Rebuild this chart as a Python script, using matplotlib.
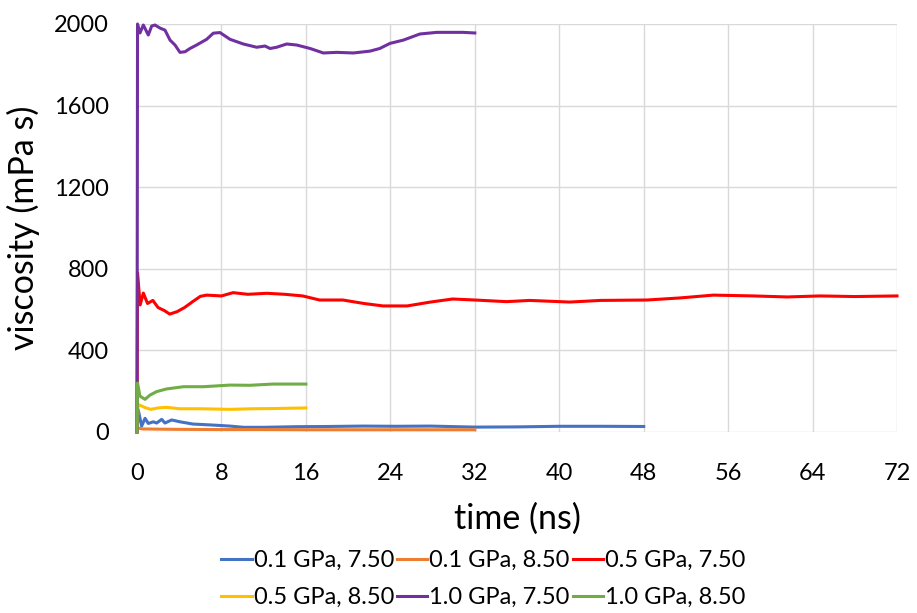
import matplotlib.pyplot as plt

# data (time in ns, viscosity in mPa s)
t_b = [0, 0.12, 0.44, 0.76, 1.07, 1.55, 1.86, 2.34, 2.65, 3.28, 4.07, 5.3, 7.2, 8.8, 10.1,
       12.0, 15.1, 18.0, 21.4, 24.5, 27.8, 32.0, 36.0, 40.0, 44.0, 48.0]
v_b = [0, 108, 29, 67, 42, 50, 44, 62, 44, 59, 50, 39, 34, 29, 23,
       23, 26, 27, 29, 28, 29, 24, 25, 28, 28, 27]

t_o = [0, 0.1, 0.5, 2.0, 4.0, 8.0, 12.0, 16.0, 20.0, 24.0, 28.0, 32.0]
v_o = [0, 20, 15, 14, 13, 12, 12, 11, 11, 11, 11, 11]

t_r = [0, 0.05, 0.3, 0.6, 1.0, 1.5, 2.0, 2.6, 3.1, 3.8, 4.5, 5.3, 6.0, 6.6, 8.0, 9.1, 10.5,
       12.3, 14.0, 15.7, 17.3, 19.5, 21.5, 23.3, 25.6, 27.8, 29.9, 32.0, 35.0, 37.2, 41.0,
       43.9, 48.3, 51.4, 54.6, 58.4, 61.6, 64.7, 68.0, 72.0]
v_r = [0, 780, 623, 681, 630, 645, 610, 595, 578, 590, 610, 640, 665, 671, 667, 683, 675,
       680, 675, 667, 647, 647, 630, 618, 618, 637, 652, 647, 639, 645, 637,
       645, 647, 657, 671, 667, 662, 667, 664, 667]

t_y = [0, 0.1, 0.8, 1.3, 2.0, 2.8, 4.0, 6.0, 8.8, 11.0, 13.0, 16.0]
v_y = [0, 135, 119, 111, 118, 121, 114, 114, 111, 114, 115, 118]

t_p = [0, 0.05, 0.28, 0.6, 1.07, 1.39, 1.7, 2.18, 2.65, 3.13, 3.6, 4.07, 4.55, 5.02, 5.65,
       6.6, 7.23, 7.86, 8.81, 10.07, 11.34, 12.13, 12.6, 13.23, 14.18, 15.13, 16.4, 17.65,
       18.92, 20.5, 22.07, 23.0, 23.97, 25.23, 26.8, 28.4, 30.9, 32.0]
v_p = [0, 2000, 1956, 1995, 1946, 1990, 1995, 1980, 1970, 1921, 1897, 1861, 1864, 1880, 1897,
       1925, 1955, 1958, 1925, 1902, 1886, 1892, 1880, 1886, 1902, 1897, 1880, 1858,
       1861, 1858, 1867, 1880, 1905, 1921, 1951, 1959, 1959, 1956]

t_g = [0, 0.05, 0.28, 0.76, 1.23, 1.86, 2.8, 4.4, 6.3, 8.8, 10.7, 12.9, 16.0]
v_g = [0, 240, 176, 160, 181, 198, 211, 222, 222, 230, 229, 235, 235]

labels = ["0.1 GPa, 7.50", "0.1 GPa, 8.50", "0.5 GPa, 7.50",
          "0.5 GPa, 8.50", "1.0 GPa, 7.50", "1.0 GPa, 8.50"]
colors = ["#4472C4", "#ED7D31", "#FF0000", "#FFC000", "#7030A0", "#70AD47"]
series = [(t_b, v_b), (t_o, v_o), (t_r, v_r), (t_y, v_y), (t_p, v_p), (t_g, v_g)]

x_ticks = list(range(0, 73, 8))
y_ticks = [0, 400, 800, 1200, 1600, 2000]

plt.rcParams["font.family"] = ["Lato", "DejaVu Sans"]

fig = plt.figure(figsize=(9.17, 6.13), dpi=100)
ax = fig.add_axes([137 / 917, 181 / 613, 760 / 917, 408 / 613])

handles = []
for (t, v), lab, c in zip(series, labels, colors):
    (h,) = ax.plot(t, v, color=c, lw=2.2, label=lab, clip_on=False,
                   solid_joinstyle="round")
    handles.append(h)

ax.set_xlim(0, 72)
ax.set_ylim(0, 2000)
ax.set_xticks(x_ticks)
ax.set_yticks(y_ticks)
ax.grid(True, color="#d9d9d9", lw=1)
ax.set_axisbelow(True)
for s in ax.spines.values():
    s.set_visible(False)
ax.tick_params(length=0, labelsize=17)
ax.tick_params(axis="x", pad=22)
ax.tick_params(axis="y", pad=20)

ax.set_xlabel("time (ns)", fontsize=24.5, labelpad=14)
ax.set_ylabel("viscosity (mPa s)", fontsize=24.5, labelpad=10)

order = [0, 3, 1, 4, 2, 5]
fig.legend([handles[i] for i in order], [labels[i] for i in order],
           loc="center", bbox_to_anchor=(0.527, 0.0555), ncol=3, frameon=False,
           fontsize=17, handlelength=1.3, handletextpad=0.08, columnspacing=0.12,
           labelspacing=0.68)

fig.savefig("out.png", dpi=100)
